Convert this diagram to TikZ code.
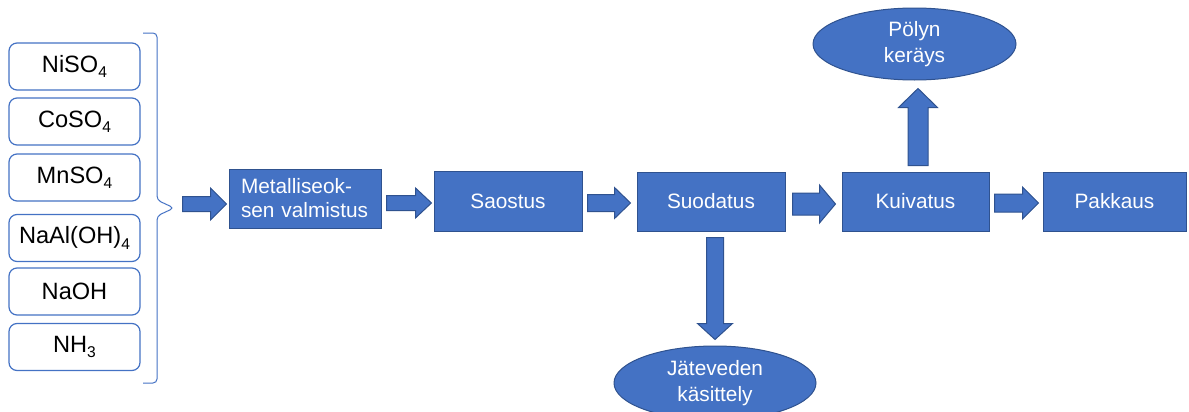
\documentclass[tikz,border=0pt]{standalone}
\usepackage{fontspec}
\setmainfont{Liberation Sans}
\usetikzlibrary{shapes.geometric,calc}

\definecolor{boxblue}{HTML}{4472C4}
\definecolor{edgeblue}{HTML}{2F528F}

\newcommand\chsub[1]{\raisebox{-2.6pt}{\fontsize{7.8}{8}\selectfont #1}}

\tikzset{
    chem/.style={rectangle,rounded corners=4pt,draw=boxblue,line width=0.6pt,fill=white,
        minimum width=65.5pt,minimum height=23.5pt,inner sep=0pt,font=\fontsize{11.8}{14}\selectfont},
    proc/.style={rectangle,fill=boxblue,draw=edgeblue,line width=0.5pt,text=white,
        minimum height=29.5pt,inner sep=0pt,font=\fontsize{10.4}{12}\selectfont},
    sink/.style={ellipse,fill=boxblue,draw=edgeblue,line width=0.5pt,text=white,align=center,
        inner sep=0pt,font=\fontsize{10.4}{13}\selectfont},
    arrowbody/.style={fill=boxblue,draw=edgeblue,line width=0.5pt},
    pics/barrow/.style args={#1/#2/#3/#4}{code={
        \draw[arrowbody] (0,-#2) -- ({#1-#4},-#2) -- ({#1-#4},-#3) -- (#1,0)
            -- ({#1-#4},#3) -- ({#1-#4},#2) -- (0,#2) -- cycle;
    }}
}

\begin{document}
\begin{tikzpicture}[x=0.5pt,y=-0.5pt]
    \useasboundingbox (0,0) rectangle (1189,412);
    \clip (0,0) rectangle (1189,412);

    % raw materials
    \node[chem] (ni) at (74.5,66.5) {NiSO\chsub{4}};
    \node[chem] (co) at (74.5,121.5) {CoSO\chsub{4}};
    \node[chem] (mn) at (74.5,177.5) {MnSO\chsub{4}};
    \node[chem] (al) at (74.5,238) {NaAl(OH)\chsub{4}};
    \node[chem] (naoh) at (74.5,291.5) {NaOH};
    \node[chem] (nh) at (74.5,347) {NH\chsub{3}};
    \draw[boxblue,line width=0.5pt,rounded corners=2pt]
        (143,33) -- (157,33) -- (157,200) -- (174,208) -- (157,216) -- (157,383) -- (143,383);

    % process chain
    \node[proc,align=left,text width=64pt,inner xsep=6pt] (met) at (305,198.5) {Metalliseok-\\sen valmistus};
    \node[proc,minimum width=74pt,minimum height=30pt] (sao) at (508,201) {Saostus};
    \node[proc,minimum width=74pt] (suo) at (711,201.5) {Suodatus};
    \node[proc,minimum width=73.5pt] (kui) at (915.5,201.5) {Kuivatus};
    \node[proc,minimum width=71.5pt] (pak) at (1114.5,201.5) {Pakkaus};

    \node[sink,minimum width=101.5pt,minimum height=36pt] (dust) at (914.5,44) {Pölyn\\keräys};
    \node[sink,minimum width=101pt,minimum height=37pt] (waste) at (715,383) {Jäteveden\\käsittely};

    % block arrows
    \pic at ($(met.west)+(-46,5.5)$) {barrow=44/7.5/16/16};
    \pic at ($(met.east)+(5,4.5)$) {barrow=45/7.5/15/16};
    \pic at ($(sao.east)+(5,2)$) {barrow=43/8.5/15.5/16};
    \pic at ($(suo.east)+(7,2.5)$) {barrow=43/11/19/16};
    \pic at ($(kui.east)+(5,1.5)$) {barrow=44/9/16/16};
    \pic[rotate=90] at ($(kui.north)+(2.5,-6)$) {barrow=77/10/19.5/19};
    \pic[rotate=-90] at ($(suo.south)+(4,6)$) {barrow=102/8.5/17.5/16};
\end{tikzpicture}
\end{document}
